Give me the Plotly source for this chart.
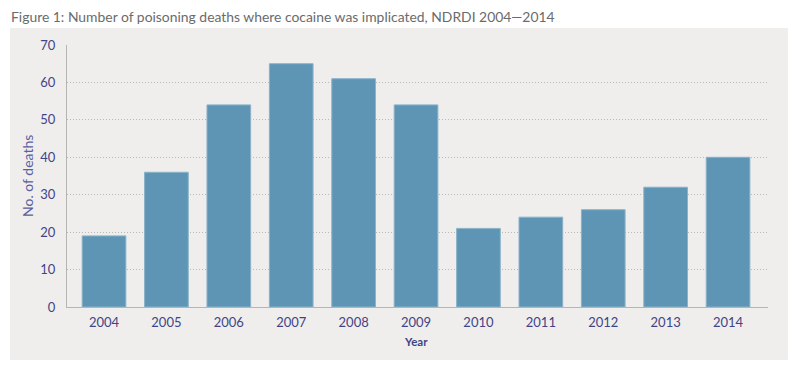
import plotly.graph_objects as go

years = ["2004", "2005", "2006", "2007", "2008", "2009", "2010", "2011", "2012", "2013", "2014"]
deaths = [19, 36, 54, 65, 61, 54, 21, 24, 26, 32, 40]
y_ticks = [0, 10, 20, 30, 40, 50, 60, 70]

title_text = "Figure 1: Number of poisoning deaths where cocaine was implicated, NDRDI 2004\u20142014"

L, R, T, B = 67, 32, 45, 68
PW, PH = 800 - L - R, 375 - T - B

def px(x):
    return (x - L) / PW

def py(y):
    return (375 - B - y) / PH

fig = go.Figure()
fig.add_trace(go.Bar(
    x=years, y=deaths, width=0.7,
    marker=dict(color="#5f95b4", line=dict(color="#8ab2c9", width=1)),
    hoverinfo="x+y",
))

fig.update_layout(
    width=800, height=375,
    margin=dict(l=L, r=R, t=T, b=B, autoexpand=False),
    paper_bgcolor="white",
    plot_bgcolor="#efeeed",
    font=dict(family="Lato, Open Sans, sans-serif", color="#3f4487", size=13),
    showlegend=False,
    shapes=[dict(type="rect", xref="paper", yref="paper", layer="below",
                 x0=px(10), x1=px(788), y0=py(360), y1=py(28),
                 fillcolor="#efeeed", line=dict(width=0))],
    annotations=[
        dict(text=title_text, xref="paper", yref="paper", x=px(9), y=py(16),
             xanchor="left", yanchor="middle", showarrow=False,
             font=dict(size=13.9, color="#6b6b6b", family="Lato, sans-serif")),
        dict(text="<b>Year</b>", xref="paper", yref="paper", x=px(416), y=py(341),
             xanchor="center", yanchor="middle", showarrow=False,
             font=dict(size=11.5, color="#3f4487")),
        dict(text="No. of deaths", xref="paper", yref="paper", x=px(27), y=py(176),
             xanchor="center", yanchor="middle", showarrow=False, textangle=-90,
             font=dict(size=14, color="#5a60a0")),
    ],
)
fig.update_xaxes(
    type="category", range=[-0.593, 10.64], automargin=False,
    showline=True, linecolor="#b5b5b5", linewidth=1,
    ticks="outside", ticklen=3, tickcolor="rgba(0,0,0,0)",
    tickfont=dict(size=13, color="#3f4487"),
    showgrid=False,
)
fig.update_yaxes(
    range=[0, 70], tickvals=y_ticks, automargin=False,
    showline=True, linecolor="#b5b5b5", linewidth=1,
    showgrid=True, gridcolor="#b8b8b8", griddash="1px,2px", gridwidth=1,
    zeroline=False,
    tickfont=dict(size=13, color="#3f4487"),
    ticks="outside", ticklen=8, tickcolor="rgba(0,0,0,0)",
)
fig.write_html("out.html", config={"displayModeBar": False},
               post_script="document.body.style.margin='0';")
